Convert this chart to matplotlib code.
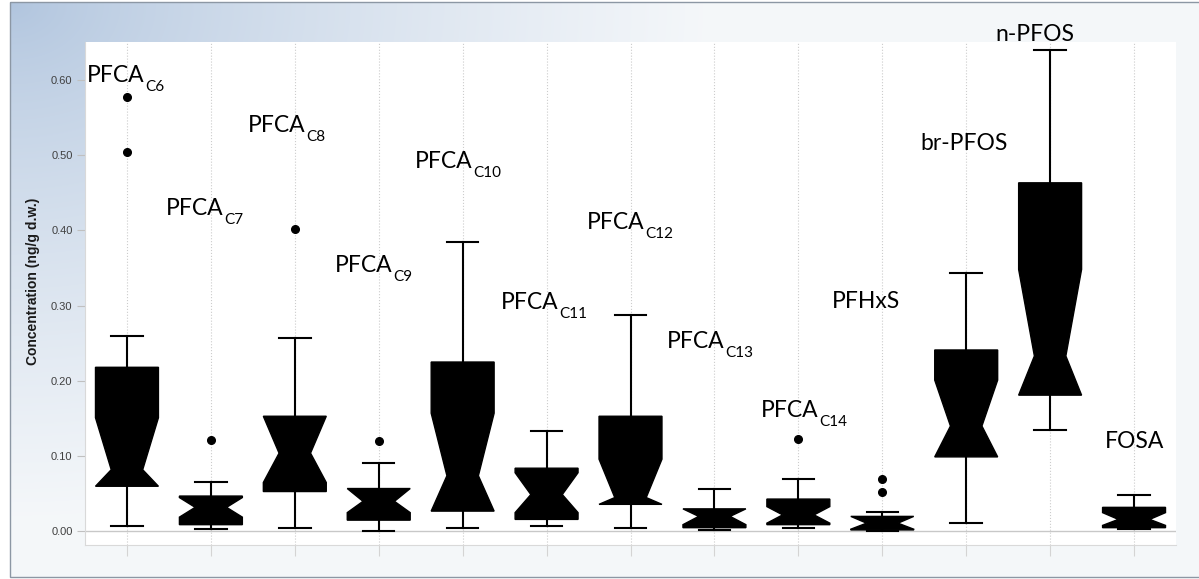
import matplotlib.pyplot as plt
import numpy as np
from matplotlib.patches import Rectangle

# compounds (label text + subscript)
label_main = ['PFCA'] * 9 + ['PFHxS', 'br-PFOS', 'n-PFOS', 'FOSA']
label_sub = ['C6', 'C7', 'C8', 'C9', 'C10', 'C11', 'C12', 'C13', 'C14', '', '', '', '']

# box statistics (ng/g d.w.)
whislo = [0.007, 0.003, 0.005, 0.001, 0.005, 0.007, 0.005, 0.002, 0.004, 0.001, 0.011, 0.135, 0.003]
q1 = [0.060, 0.009, 0.053, 0.015, 0.027, 0.016, 0.036, 0.005, 0.009, 0.002, 0.099, 0.181, 0.005]
cilo = [0.060, 0.019, 0.065, 0.025, 0.027, 0.025, 0.036, 0.009, 0.011, 0.003, 0.099, 0.181, 0.008]
med = [0.082, 0.032, 0.104, 0.040, 0.074, 0.049, 0.045, 0.020, 0.022, 0.011, 0.140, 0.233, 0.016]
cihi = [0.151, 0.045, 0.153, 0.057, 0.157, 0.078, 0.096, 0.030, 0.033, 0.020, 0.201, 0.348, 0.025]
q3 = [0.218, 0.047, 0.153, 0.057, 0.225, 0.084, 0.153, 0.030, 0.043, 0.020, 0.241, 0.463, 0.032]
whishi = [0.260, 0.066, 0.257, 0.091, 0.384, 0.134, 0.288, 0.056, 0.069, 0.026, 0.343, 0.639, 0.048]
fliers = [[0.577, 0.504], [0.121], [0.401], [0.120], [], [], [], [], [0.123], [0.070, 0.053], [], [], []]

y_ticks = [0.0, 0.1, 0.2, 0.3, 0.4, 0.5, 0.6]

# label anchor (left, baseline) in pixels
label_px = [(87, 82), (166, 215), (248, 132), (335, 272), (415, 168), (501, 309), (587, 229),
            (667, 348), (761, 417), (832, 308), (920, 150), (995, 41), (1105, 448)]

W, H = 1199, 579
fig = plt.figure(figsize=(W / 100, H / 100), dpi=100)

# chart area background with gradient
bg = fig.add_axes([0, 0, 1, 1], zorder=0)
bg.set_xlim(0, W)
bg.set_ylim(H, 0)
bg.axis('off')
xx, yy = np.meshgrid(np.linspace(0, W - 10, 300), np.linspace(0, 575, 150))
d = np.clip(np.sqrt((xx / 700) ** 2 + (yy / 520) ** 2), 0, 1) ** 0.75
c0 = np.array([0.69, 0.77, 0.87])
c1 = np.array([0.96, 0.97, 0.98])
img = c0 + (c1 - c0) * d[..., None]
bg.imshow(img, extent=(10, W, 577, 2), aspect='auto', interpolation='bilinear')
bg.add_patch(Rectangle((10, 2), W, 575, fill=False, edgecolor='#8c97a4', lw=1))

# plot area
ax = fig.add_axes([85 / W, 1 - 545 / H, (1176 - 85) / W, (545 - 42) / H], zorder=1)
ax.set_facecolor('white')

stats = []
for i in range(len(label_main)):
    stats.append(dict(whislo=whislo[i], q1=q1[i], cilo=cilo[i], med=med[i], cihi=cihi[i],
                      q3=q3[i], whishi=whishi[i], fliers=fliers[i]))

positions = np.arange(1, len(stats) + 1)
ax.bxp(stats, positions=positions, widths=0.75, shownotches=True, patch_artist=True,
       boxprops=dict(facecolor='black', edgecolor='black', linewidth=1),
       whiskerprops=dict(color='black', linewidth=1.5),
       capprops=dict(color='black', linewidth=1.5),
       medianprops=dict(color='black', linewidth=0),
       flierprops=dict(marker='o', markerfacecolor='black', markeredgecolor='black', markersize=5.5))

ax.set_xlim(0.5, 13.5)
ax.set_ylim(-0.018, 0.65)
ax.axhline(0, color='#c8c8c8', lw=1, zorder=0.5)

ax.set_xticks(positions)
ax.set_xticklabels([])
ax.tick_params(axis='x', length=8, color='#d4d4d4', direction='out')
ax.grid(axis='x', color='#cccccc', linestyle=':', linewidth=0.8)
ax.set_axisbelow(True)

ax.set_yticks(y_ticks)
ax.set_yticklabels([f'{v:.2f}' for v in y_ticks], fontfamily='Liberation Sans')
ax.tick_params(axis='y', length=6, color='#c0c0c0', labelsize=8, labelcolor='#404040', pad=3)

for s in ['top', 'right']:
    ax.spines[s].set_visible(False)
for s in ['left', 'bottom']:
    ax.spines[s].set_color('#d9d9d9')

fig.text(33 / W, 1 - 281 / H, 'Concentration (ng/g d.w.)', rotation=90, ha='center', va='center',
         fontsize=10, fontweight='bold', family='Liberation Sans', color='#1a1a1a')

# compound labels, subscript drawn as a second, smaller and lower text
renderer = fig.canvas.get_renderer()
for (px, py), m, sub in zip(label_px, label_main, label_sub):
    t = fig.text(px / W, 1 - py / H, m, ha='left', va='baseline', fontsize=16.5, family='Lato', zorder=5)
    if sub:
        bb = t.get_window_extent(renderer)
        fig.text((bb.x1 + 1) / W, 1 - (py + 9) / H, sub, ha='left', va='baseline',
                 fontsize=11, family='Lato', zorder=5)

fig.savefig('out.png', dpi=100)
